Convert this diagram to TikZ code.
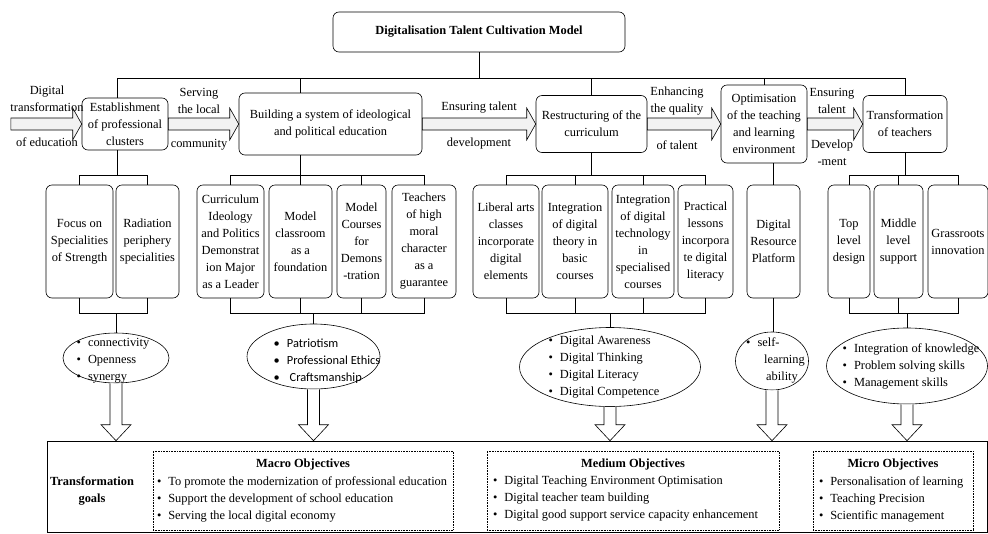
\documentclass[tikz,border=0pt]{standalone}
\usepackage{fontspec}
\setmainfont{Liberation Serif}
\newfontfamily\calibfont{Carlito}
\usetikzlibrary{calc,shapes.geometric}
\newcommand\fs{\fontsize{12.4}{17}\selectfont}
\newcommand\itm{\textbullet\hspace{7pt}}
\newcommand\fatright[2]{\draw[fat] ($(#1.east)+(0,-6)$) -- ($(#2.west)+(-9,-6)$) -- ($(#2.west)+(-9,-16)$) -- (#2.west) -- ($(#2.west)+(-9,16)$) -- ($(#2.west)+(-9,6)$) -- ($(#1.east)+(0,6)$) -- cycle;}
\newcommand\fatdown[2]{\path (#1.south |- #2.north) coordinate (#1tip);
  \draw[fat,fill=white] ($(#1.south)+(-6,0)$) -- ($(#1tip)+(-6,-16)$) -- ($(#1tip)+(-15,-16)$) -- (#1tip) -- ($(#1tip)+(15,-16)$) -- ($(#1tip)+(6,-16)$) -- ($(#1.south)+(6,0)$);}
\begin{document}
\begin{tikzpicture}[x=1pt,y=-1pt,line width=0.6pt,
  rbox/.style={draw,rounded corners=6pt,align=center,font=\fs,inner sep=1pt},
  tall/.style={rbox,minimum height=113},
  oval/.style={draw,ellipse,inner sep=0pt},
  lbl/.style={align=center,font=\fs,inner sep=0pt},
  lst/.style={align=left,font=\fs,inner sep=0pt},
  dotbox/.style={draw,densely dotted,inner sep=0pt,minimum height=79},
  fat/.style={draw,fill=gray!10}]
\useasboundingbox (0,0) rectangle (988,533);
\node[rbox,minimum width=292,minimum height=40,font=\fs\bfseries] (title) at (479,32) {Digitalisation Talent Cultivation Model};
\node[rbox,minimum width=86,minimum height=52] (est) at (125,124) {Establishment\\of professional\\clusters};
\node[rbox,minimum width=183,minimum height=62] (bld) at (330.5,124) {Building a system of ideological\\and political education};
\node[rbox,minimum width=111,minimum height=57] (rc) at (591.5,124) {Restructuring of the\\curriculum};
\node[rbox,minimum width=86,minimum height=78] (opt) at (764,124) {Optimisation\\of the teaching\\and learning\\environment};
\node[rbox,minimum width=84,minimum height=57] (tr) at (905,124) {Transformation\\of teachers};
\coordinate (bus) at (0,78);
\coordinate (upbar) at (0,176);
\coordinate (lowbar) at (0,313);
\draw (title.south) -- (title.south |- bus);
\draw ([xshift=-8pt]est.north) |- (tr.north |- bus) -- (tr.north);
\draw ([xshift=-30pt]bld.north) -- ++(0,-15);
\draw (rc.north) -- (rc.north |- bus);
\draw (opt.north) -- (opt.north |- bus);
\node[inner sep=0pt] (src) at (10,124) {};
\fatright{src}{est}
\fatright{est}{bld}
\fatright{bld}{rc}
\fatright{rc}{opt}
\fatright{opt}{tr}
\node[lbl] (a1) at (47,99) {Digital\\transformation};
\node[lbl] (a2) at (47,142) {of education};
\node[lbl] (b1l) at (199,101) {Serving\\the local};
\node[lbl] (b2l) at (199,145) {community};
\node[lbl] (c1l) at (479,108) {Ensuring talent};
\node[lbl] (c2l) at (479,144) {development};
\node[lbl] (d1l) at (677,101) {Enhancing\\the quality};
\node[lbl] (d2l) at (677,145) {of talent};
\node[lbl] (e1l) at (832,101) {Ensuring\\talent};
\node[lbl] (e2l) at (832,152.5) {Develop\\-ment};
\node[tall,minimum width=67] (f1) at (79.5,241.5) {Focus on\\Specialities\\of Strength};
\node[tall,minimum width=63] (f2) at (147.5,241.5) {Radiation\\periphery\\specialities};
\node[tall,minimum width=67] (b1) at (230.5,241.5) {Curriculum\\Ideology\\and Politics\\Demonstrat\\ion Major\\as a Leader};
\node[tall,minimum width=63] (b2) at (300.5,241.5) {Model\\classroom\\as a\\foundation};
\node[tall,minimum width=49] (b3) at (361.5,241.5) {Model\\Courses\\for\\Demons\\-tration};
\node[tall,minimum width=64] (b4) at (424,241.5) {Teachers\\of high\\moral\\character\\as a\\guarantee};
\node[tall,minimum width=66] (r1) at (506,241.5) {Liberal arts\\classes\\incorporate\\digital\\elements};
\node[tall,minimum width=66] (r2) at (575,241.5) {Integration\\of digital\\theory in\\basic\\courses};
\node[tall,minimum width=62] (r3) at (643,241.5) {Integration\\of digital\\technology\\in\\specialised\\courses};
\node[tall,minimum width=55] (r4) at (705.5,241.5) {Practical\\lessons\\incorpora\\te digital\\literacy};
\node[tall,minimum width=53] (d1) at (773.5,241.5) {Digital\\Resource\\Platform};
\node[tall,minimum width=42] (t1) at (849,241.5) {Top\\level\\design};
\node[tall,minimum width=49] (t2) at (898.5,241.5) {Middle\\level\\support};
\node[tall,minimum width=60] (t3) at (958,241.5) {Grassroots\\innovation};
\node[oval,minimum width=106,minimum height=50] (e1) at (116,358) {};
\node[lst] (l1) at (113,361) {\itm connectivity\\\itm Openness\\\itm synergy};
\node[oval,minimum width=133,minimum height=65] (e2) at (313.5,356.5) {};
\node[lst,font=\fs\calibfont] (l2) at (327,361.5) {\itm Patriotism\\\itm Professional Ethics\\\itm\ Craftsmanship};
\node[oval,minimum width=181,minimum height=79] (e3) at (610,367) {};
\node[lst] (l3) at (604,367.5) {\itm Digital Awareness\\\itm Digital Thinking\\\itm Digital Literacy\\\itm Digital Competence};
\node[oval,minimum width=73,minimum height=58] (e4) at (772,361) {};
\node[lst] (l4) at (775.5,360.5) {\itm self-\\\hspace{18pt}learning\\\hspace{20pt}ability};
\node[oval,minimum width=161,minimum height=76] (e5) at (907,366) {};
\node[lst] (l5) at (911,366) {\itm Integration of knowledge\\\itm Problem solving skills\\\itm Management skills};
\draw ([xshift=-8pt]est.south) -- ++(0,26);
\draw (f1.north) -- ++(0,-9) -| (f2.north);
\draw (f1.south) -- ++(0,15) -| (f2.south);
\draw (e1.north) -- (e1.north |- lowbar);
\draw ([xshift=-30pt]bld.south) -- ++(0,21);
\draw (b1.north) -- ++(0,-9) -| (b4.north);
\draw (b1.south) -- ++(0,15) -| (b4.south);
\foreach \n in {b2,b3} \draw (\n.north) -- ++(0,-9) (\n.south) -- ++(0,15);
\draw (e2.north) -- (e2.north |- lowbar);
\draw (rc.south) -- (rc.south |- upbar);
\draw (r1.north) -- ++(0,-9) -| (r4.north);
\draw (r1.south) -- ++(0,15) -| (r4.south);
\foreach \n in {r2,r3} \draw (\n.north) -- ++(0,-9) (\n.south) -- ++(0,15);
\draw (e3.north) -- (e3.north |- lowbar);
\draw (d1.north) -- (d1.north |- opt.south);
\draw (d1.south) -- (d1.south |- e4.north);
\draw (tr.south) -- (tr.south |- upbar);
\draw (t1.north) -- ++(0,-9) -| (t3.north);
\draw (t1.south) -- ++(0,15) -| (t3.south);
\draw (t2.north) -- ++(0,-9) (t2.south) -- ++(0,15);
\draw (e5.north) -- (e5.north |- lowbar);
\node[draw,minimum width=940,minimum height=91,inner sep=0pt] (goals) at (517,486.5) {};
\foreach \e in {e1,e2,e3,e4,e5} \fatdown{\e}{goals};
\node[lbl,font=\fs\bfseries] (tg) at (92,490.5) {Transformation\\goals};
\node[dotbox,minimum width=300] (macro) at (303,490.5) {};
\node[lbl,font=\fs\bfseries] (macroT) at ($(macro.north)+(0,14)$) {Macro Objectives};
\node[lst,anchor=west] (macroL) at ($(macro.west)+(4,8.5)$) {\itm To promote the modernization of professional education\\\itm Support the development of school education\\\itm Serving the local digital economy};
\node[dotbox,minimum width=292] (medium) at (633,490.5) {};
\node[lbl,font=\fs\bfseries] (mediumT) at ($(medium.north)+(0,14)$) {Medium Objectives};
\node[lst,anchor=west] (mediumL) at ($(medium.west)+(6,8.5)$) {\itm Digital Teaching Environment Optimisation\\\itm Digital teacher team building\\\itm Digital good support service capacity enhancement};
\node[dotbox,minimum width=160] (micro) at (893,490.5) {};
\node[lbl,font=\fs\bfseries] (microT) at ($(micro.north)+(0,14)$) {Micro Objectives};
\node[lst,anchor=west] (microL) at ($(micro.west)+(6,8.5)$) {\itm Personalisation of learning\\\itm Teaching Precision\\\itm Scientific management};
\end{tikzpicture}
\end{document}
